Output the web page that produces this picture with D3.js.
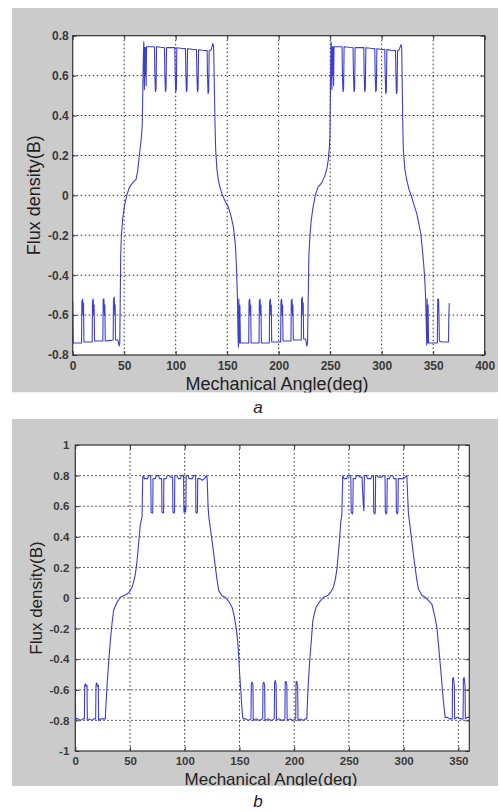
<!DOCTYPE html>
<html><head><meta charset="utf-8">
<script src="https://cdn.jsdelivr.net/npm/d3@7"></script>
<style>body{margin:0;background:#fff}svg{display:block}</style>
</head><body>
<svg id="c" width="500" height="812"></svg>
<script>
// ---------- data ----------
const xTicksA = [0,50,100,150,200,250,300,350,400];
const yTicksA = [-0.8,-0.6,-0.4,-0.2,0,0.2,0.4,0.6,0.8];
const xTicksB = [0,50,100,150,200,250,300,350];
const yTicksB = [-1,-0.8,-0.6,-0.4,-0.2,0,0.2,0.4,0.6,0.8,1];
const xTitle = "Mechanical Angle(deg)";
const yTitle = "Flux density(B)";
const captions = ["a","b"];

// panel a: [mechanical angle (deg), flux density (B)]
const fluxA = [
[0,-0.53],[0.3,-0.65],[0.6,-0.74],[4,-0.74],
[8.6,-0.74],[8.9,-0.53],[9.6,-0.52],[10.1,-0.6],[10.5,-0.54],[10.9,-0.735],
[14,-0.735],[18.9,-0.735],[19.2,-0.53],[19.9,-0.52],[20.4,-0.6],[20.8,-0.55],[21.2,-0.73],
[25,-0.73],[29.3,-0.73],[29.6,-0.52],[30.3,-0.52],[30.8,-0.6],[31.2,-0.55],[31.6,-0.73],
[35,-0.728],[39.3,-0.725],[39.6,-0.52],[40.3,-0.51],[40.8,-0.6],[41.2,-0.55],[41.6,-0.725],
[44,-0.725],[45,-0.755],[45.7,-0.74],[46.2,-0.5],[46.6,-0.3],[47.3,-0.2],[48.5,-0.12],[50,-0.06],
[52.5,0],[55,0.04],[58.5,0.065],[61.5,0.08],[63,0.12],[64.7,0.2],[66.5,0.28],[67.5,0.35],[68,0.5],[68.6,0.7],[69,0.77],
[69.3,0.73],[69.6,0.53],[70,0.74],[70.4,0.6],[70.8,0.74],[71.3,0.55],[71.7,0.745],
[74,0.745],[79.4,0.745],[79.8,0.6],[80.3,0.52],[80.9,0.53],[81.4,0.745],
[85,0.742],[89.1,0.74],[89.5,0.6],[90,0.52],[90.6,0.53],[91.1,0.74],
[95,0.74],[99.1,0.74],[99.5,0.6],[100,0.52],[100.6,0.53],[101.1,0.74],
[105,0.737],[109.5,0.735],[109.9,0.6],[110.4,0.52],[111,0.53],[111.5,0.735],
[116,0.732],[120.2,0.73],[120.6,0.6],[121.1,0.52],[121.7,0.53],[122.2,0.73],
[126,0.727],[130.5,0.725],[130.9,0.6],[131.4,0.51],[132,0.52],[132.5,0.725],
[134.5,0.73],[136,0.76],[136.8,0.75],[137.5,0.55],[138.2,0.35],[138.8,0.23],[140,0.13],[141.4,0.077],
[143,0.04],[144.7,0.01],[148,-0.03],[151,-0.057],[153.5,-0.1],[156,-0.157],[158,-0.25],[159,-0.36],
[160,-0.525],[160.5,-0.7],[160.9,-0.76],
[161.3,-0.52],[161.8,-0.74],[162.3,-0.55],[162.8,-0.74],
[166,-0.74],[170.9,-0.74],[171.2,-0.53],[171.9,-0.52],[172.4,-0.6],[172.8,-0.55],[173.2,-0.74],
[177,-0.74],[180.9,-0.74],[181.2,-0.53],[181.9,-0.52],[182.4,-0.6],[182.8,-0.55],[183.2,-0.74],
[187,-0.74],[190.9,-0.74],[191.2,-0.53],[191.9,-0.52],[192.4,-0.6],[192.8,-0.55],[193.2,-0.735],
[197,-0.735],[201.9,-0.735],[202.2,-0.53],[202.9,-0.52],[203.4,-0.6],[203.8,-0.55],[204.2,-0.73],
[208,-0.73],[211.9,-0.73],[212.2,-0.53],[212.9,-0.52],[213.4,-0.6],[213.8,-0.55],[214.2,-0.725],
[218,-0.725],[221.9,-0.725],[222.2,-0.52],[222.9,-0.51],[223.4,-0.6],[223.8,-0.54],[224.2,-0.72],
[226.2,-0.72],[227.2,-0.755],[228,-0.74],[228.7,-0.5],[229.3,-0.3],[230.4,-0.2],[231.5,-0.13],[233,-0.07],
[235.5,0],[238,0.04],[241.7,0.063],[245,0.1],[247,0.14],[248.2,0.18],[249.3,0.25],[249.8,0.31],[250.3,0.55],[250.8,0.77],
[251.2,0.74],[251.6,0.53],[252,0.745],[252.4,0.6],[252.8,0.745],[253.3,0.55],[253.7,0.745],
[257,0.745],[261.5,0.745],[261.9,0.6],[262.4,0.52],[263,0.53],[263.5,0.745],
[268,0.742],[272.2,0.74],[272.6,0.6],[273.1,0.52],[273.7,0.53],[274.2,0.74],
[278,0.74],[282.6,0.74],[283,0.6],[283.5,0.52],[284.1,0.53],[284.6,0.74],
[289,0.737],[293.3,0.735],[293.7,0.6],[294.2,0.52],[294.8,0.53],[295.3,0.735],
[299,0.732],[303,0.73],[303.4,0.6],[303.9,0.51],[304.5,0.52],[305,0.73],
[309,0.727],[313.4,0.725],[313.8,0.6],[314.3,0.51],[314.9,0.52],[315.4,0.725],
[317,0.73],[318.7,0.755],[319.4,0.74],[320,0.53],[320.5,0.35],[321,0.23],[322.5,0.13],[324.3,0.077],
[326.5,0.03],[329,-0.007],[331.5,-0.05],[334,-0.09],[336,-0.14],[337.9,-0.19],[339.5,-0.27],[341,-0.36],
[342,-0.44],[342.7,-0.52],[343.3,-0.65],[343.7,-0.75],
[344.1,-0.52],[344.6,-0.74],[345,-0.55],[345.5,-0.74],
[346,-0.74],[350,-0.74],[354,-0.74],[354.4,-0.52],[355.2,-0.52],[355.6,-0.6],[356,-0.73],
[358,-0.735],[362,-0.735],[364.8,-0.735],[365.2,-0.6],[365.6,-0.54]
];

// panel b: [mechanical angle (deg), flux density (B)]
const fluxB = [
[0,-0.5],[0.3,-0.8],[0.8,-0.79],[3,-0.79],[5,-0.8],[7,-0.79],
[8.3,-0.79],[8.6,-0.57],[9.3,-0.56],[10,-0.58],[10.7,-0.57],[11,-0.8],
[13,-0.79],[15,-0.8],[17,-0.79],[18.6,-0.79],
[18.9,-0.57],[19.6,-0.555],[20.3,-0.58],[21,-0.57],[21.3,-0.8],
[23,-0.79],[25,-0.79],[27.4,-0.79],[28,-0.7],[29.2,-0.55],[30.5,-0.42],[32,-0.28],[33.5,-0.17],[35,-0.08],
[38,-0.03],[41.1,0.005],[44,0.015],[47.3,0.026],[50,0.045],[51.8,0.07],[53.5,0.11],[54.9,0.157],[56.2,0.23],
[57.3,0.31],[58.4,0.4],[59.4,0.48],[61,0.53],[61.6,0.79],
[62.5,0.8],[63,0.78],[66,0.78],[67,0.8],[68.8,0.8],
[69,0.78],[69.3,0.56],[70.5,0.555],[70.8,0.57],[71,0.78],
[73,0.78],[74,0.8],[76,0.8],[77,0.78],[78.9,0.78],
[79.2,0.56],[80.4,0.555],[80.7,0.57],[80.9,0.78],
[83,0.78],[84,0.8],[86,0.8],[87,0.79],[88.9,0.79],
[89.2,0.56],[90.4,0.555],[90.7,0.57],[90.9,0.8],
[93,0.8],[94,0.78],[96,0.78],[97,0.8],[98.9,0.8],
[99.3,0.56],[100,0.6],[100.5,0.56],[101,0.58],[101.3,0.8],
[103,0.8],[104,0.78],[107,0.78],[108,0.8],[110,0.8],
[110.2,0.56],[111.3,0.555],[111.6,0.57],[111.9,0.78],
[114,0.78],[116,0.77],[118,0.78],[120,0.8],[120.5,0.78],[121.3,0.6],[122,0.53],[123.5,0.45],[125,0.37],
[126.5,0.29],[128,0.2],[129.5,0.12],[131,0.05],[134,0.015],[137,0.005],[140,-0.02],[143.2,-0.06],[145,-0.11],
[146.9,-0.19],[148.5,-0.29],[149.4,-0.39],[150.2,-0.5],[150.8,-0.56],[151.2,-0.6],[152,-0.7],[153,-0.78],[153.5,-0.79],
[156,-0.79],[158,-0.8],[160.5,-0.79],
[160.8,-0.56],[161.5,-0.55],[162.3,-0.57],[162.6,-0.8],
[165,-0.79],[168,-0.8],[171.2,-0.79],
[171.5,-0.56],[172.2,-0.55],[173,-0.57],[173.3,-0.8],
[176,-0.79],[179,-0.8],[181.8,-0.79],
[182.1,-0.55],[182.8,-0.54],[183.5,-0.57],[183.8,-0.8],
[186,-0.79],[189,-0.8],[191.5,-0.79],
[191.8,-0.55],[192.5,-0.545],[193.3,-0.57],[193.6,-0.8],
[196,-0.79],[199,-0.8],[201.4,-0.79],
[201.7,-0.55],[202.4,-0.545],[203.2,-0.58],[203.5,-0.8],
[206,-0.79],[208,-0.8],[210,-0.79],[211.5,-0.79],[212.3,-0.65],[213,-0.54],[214,-0.43],[215.2,-0.32],[217,-0.15],
[218.5,-0.1],[220,-0.06],[223.7,-0.02],[227,0.005],[231.3,0.02],[233.5,0.04],[235.8,0.07],[237.5,0.12],[238.9,0.18],
[240.2,0.28],[241.3,0.37],[242.6,0.5],[243.5,0.54],[244.4,0.8],
[245.5,0.78],[248,0.78],[249,0.8],[251.5,0.8],[251.8,0.78],
[252.1,0.56],[253.3,0.55],[253.6,0.57],[253.9,0.78],
[256,0.78],[257,0.8],[259,0.8],[260,0.79],[262,0.79],
[262.5,0.7],[263.2,0.6],[263.7,0.57],[264.1,0.8],
[266,0.8],[267,0.78],[270,0.78],[271,0.8],[272.4,0.8],
[272.7,0.56],[273.8,0.55],[274.1,0.57],[274.4,0.8],
[276,0.8],[277,0.79],[280,0.79],[281,0.8],[283,0.8],
[283.3,0.56],[284.4,0.55],[284.7,0.57],[285,0.78],
[287,0.78],[288,0.8],[290,0.8],[291,0.78],[293.1,0.78],
[293.4,0.56],[294.5,0.55],[294.8,0.57],[295.1,0.78],
[298,0.78],[300,0.78],[302.9,0.8],[303.5,0.7],[304.4,0.55],[306,0.46],[307.5,0.37],[309,0.28],[310.5,0.2],
[312,0.12],[313.5,0.06],[316.5,0.02],[319.6,0.005],[322.5,-0.015],[325.8,-0.04],[328.8,-0.13],[330.5,-0.2],
[331.8,-0.3],[333,-0.4],[334.3,-0.5],[335.4,-0.6],[336.4,-0.68],[337.9,-0.78],
[340,-0.78],[342,-0.79],[344.4,-0.79],
[344.7,-0.53],[345.5,-0.52],[346.3,-0.57],[346.6,-0.79],
[349,-0.78],[352,-0.79],[354.3,-0.79],
[354.6,-0.53],[355.3,-0.52],[356.1,-0.57],[356.4,-0.79],
[358,-0.78],[360,-0.78]
];

// ---------- drawing ----------
const svg = d3.select("#c");
const FONT = "'Liberation Sans', Arial, sans-serif";
const LINE = "#3d3dd4";

const panels = [
  {data: fluxA, xDom:[0,400], yDom:[-0.8,0.8], xT:xTicksA, yT:yTicksA,
   bg:[12,8,486,384.5], plot:[72.7,35.7,484.7,355], tick:12, title:18,
   xTitleY:389.5, xTitleX:277, yTitleX:39.5, xPad:6.5, yPad:4,
   cap:captions[0], capY:413},
  {data: fluxB, xDom:[0,360], yDom:[-1,1], xT:xTicksB, yT:yTicksB,
   bg:[12,419,486,367], plot:[75.3,445,469.3,751], tick:11.5, title:17,
   xTitleY:785, xTitleX:271, yTitleX:42, xPad:6, yPad:6,
   cap:captions[1], capY:807}
];

const fmt = v => (Math.abs(v) < 1e-9 ? "0" : String(+v.toFixed(1)));

panels.forEach((p, i) => {
  const [bx, by, bw, bh] = p.bg;
  const clipId = "clip" + i;
  svg.append("clipPath").attr("id", clipId)
    .append("rect").attr("x", bx).attr("y", by).attr("width", bw).attr("height", bh);
  const g = svg.append("g").attr("clip-path", `url(#${clipId})`);
  g.append("rect").attr("x", bx).attr("y", by).attr("width", bw).attr("height", bh)
    .attr("fill", "#cbcbcb");

  const [x0, y0, x1, y1] = p.plot;
  const x = d3.scaleLinear().domain(p.xDom).range([x0, x1]);
  const y = d3.scaleLinear().domain(p.yDom).range([y1, y0]);

  g.append("rect").attr("x", x0).attr("y", y0).attr("width", x1 - x0).attr("height", y1 - y0)
    .attr("fill", "#fff");

  // grid
  const grid = g.append("g").attr("stroke", "#2a2a2a").attr("stroke-width", 1)
    .attr("stroke-dasharray", "1.5,2.5");
  grid.selectAll("line.vx").data(p.xT.filter(v => v > p.xDom[0] && v < p.xDom[1]))
    .join("line").attr("x1", d => x(d)).attr("x2", d => x(d)).attr("y1", y0).attr("y2", y1);
  grid.selectAll("line.hy").data(p.yT.filter(v => v > p.yDom[0] && v < p.yDom[1]))
    .join("line").attr("y1", d => y(d)).attr("y2", d => y(d)).attr("x1", x0).attr("x2", x1);

  // curve
  const clipPlot = "clipPlot" + i;
  svg.append("clipPath").attr("id", clipPlot)
    .append("rect").attr("x", x0).attr("y", y0 - 2).attr("width", x1 - x0).attr("height", y1 - y0 + 4);
  g.append("path").datum(p.data)
    .attr("clip-path", `url(#${clipPlot})`)
    .attr("fill", "none").attr("stroke", LINE).attr("stroke-width", 1.1)
    .attr("stroke-linejoin", "round")
    .attr("d", d3.line().x(d => x(d[0])).y(d => y(d[1])));

  // axes
  const ax = d3.axisBottom(x).tickValues(p.xT).tickSize(-4).tickPadding(p.xPad).tickFormat(fmt);
  const ay = d3.axisLeft(y).tickValues(p.yT).tickSize(-4).tickPadding(p.yPad).tickFormat(fmt);
  const axT = d3.axisTop(x).tickValues(p.xT).tickSize(-4).tickFormat("");
  const ayR = d3.axisRight(y).tickValues(p.yT).tickSize(-4).tickFormat("");
  const gx = g.append("g").attr("transform", `translate(0,${y1})`).call(ax);
  const gy = g.append("g").attr("transform", `translate(${x0},0)`).call(ay);
  g.append("g").attr("transform", `translate(0,${y0})`).call(axT);
  g.append("g").attr("transform", `translate(${x1},0)`).call(ayR);
  g.selectAll(".domain").remove();
  g.selectAll(".tick line").attr("stroke", "#333");
  [gx, gy].forEach(a => a.selectAll("text")
    .attr("font-family", FONT).attr("font-size", p.tick).attr("font-weight", "bold")
    .attr("fill", "#3a3a3a"));

  // frame
  g.append("rect").attr("x", x0).attr("y", y0).attr("width", x1 - x0).attr("height", y1 - y0)
    .attr("fill", "none").attr("stroke", "#333").attr("stroke-width", 1.2);

  // titles
  g.append("text").attr("x", p.xTitleX).attr("y", p.xTitleY).attr("text-anchor", "middle")
    .attr("font-family", FONT).attr("font-size", p.title).attr("fill", "#222").text(xTitle);
  g.append("text").attr("transform", `translate(${p.yTitleX},${(y0 + y1) / 2}) rotate(-90)`)
    .attr("text-anchor", "middle")
    .attr("font-family", FONT).attr("font-size", p.title).attr("fill", "#222").text(yTitle);

  // caption
  svg.append("text").attr("x", 258).attr("y", p.capY).attr("text-anchor", "middle")
    .attr("font-family", FONT).attr("font-size", 17).attr("font-style", "italic")
    .attr("fill", "#222").text(p.cap);
});
</script>
</body></html>
